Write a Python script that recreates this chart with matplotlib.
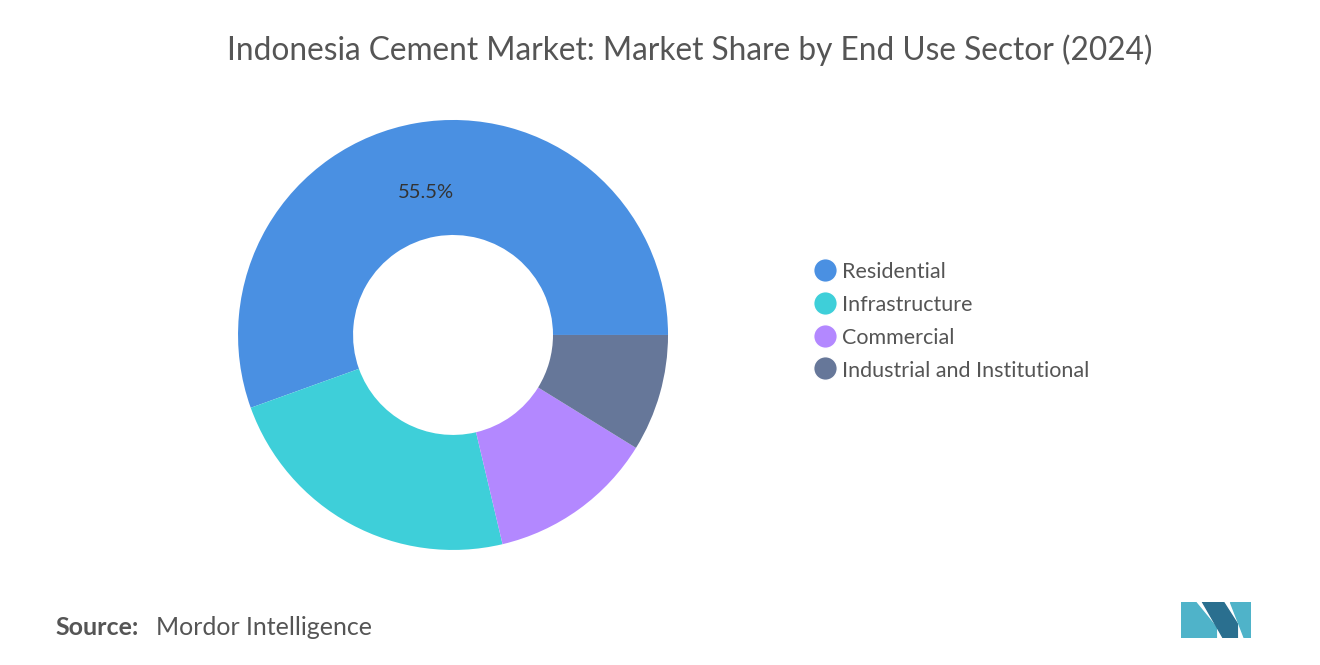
import matplotlib
matplotlib.use("Agg")
import matplotlib.pyplot as plt
from matplotlib.patches import Polygon
from matplotlib.lines import Line2D
import numpy as np

categories = ["Residential", "Infrastructure", "Commercial", "Industrial and Institutional"]
shares = [55.5, 23.2, 12.5, 8.8]
colors = ["#4a90e2", "#3ecfd9", "#b388ff", "#667799"]

fig = plt.figure(figsize=(13.2, 6.65), dpi=100)
fig.patch.set_facecolor("white")
ax = fig.add_axes([0.1803, 0.173, 0.3258, 0.6466])
wedges, _ = ax.pie(shares, colors=colors, startangle=0, counterclock=True,
                   radius=1, wedgeprops=dict(width=0.535, linewidth=0))
ax.set_xlim(-1, 1); ax.set_ylim(-1, 1); ax.set_aspect("equal")
mid = np.deg2rad(shares[0] / 100 * 360 / 2)
ax.text(0.675 * np.cos(mid) - 0.01, 0.675 * np.sin(mid), f"{shares[0]}%", ha="center", va="center",
        fontsize=14.5, color="#333333", fontfamily="Lato")

fig.text(0.5225, 0.925, "Indonesia Cement Market: Market Share by End Use Sector (2024)",
         ha="center", va="center", fontsize=22.8, color="#555555", fontfamily="Lato")

handles = [Line2D([], [], marker="o", linestyle="none", markersize=17,
                  markerfacecolor=c, markeredgecolor="white", markeredgewidth=1) for c in colors]
leg = fig.legend(handles, categories, loc="upper left", bbox_to_anchor=(0.6025, 0.636),
                 frameon=False, handlelength=1.0, handleheight=1.0,
                 handletextpad=0.25, labelspacing=0.55, prop={"family": "Lato", "size": 15.5})
for t in leg.get_texts():
    t.set_color("#555555")

fig.text(0.042, 0.056, "Source:", fontsize=18, color="#555555", fontfamily="Lato",
         fontweight="bold", va="center")
fig.text(0.118, 0.056, "Mordor Intelligence", fontsize=18, color="#555555", fontfamily="Lato",
         va="center")

lax = fig.add_axes([0.895, 0.04, 0.053, 0.055])
lax.axis("off"); lax.set_xlim(0, 10); lax.set_ylim(0, 10)
lax.add_patch(Polygon([(0, 0), (0, 10), (2, 10), (5, 3), (5, 0)], color="#4fb3c9"))
lax.add_patch(Polygon([(3, 10), (6, 10), (8, 4), (8, 0), (6, 0)], color="#2a6f8f"))
lax.add_patch(Polygon([(7, 10), (10, 10), (10, 0), (9, 0)], color="#4fb3c9"))

fig.savefig("out.png", dpi=100)
